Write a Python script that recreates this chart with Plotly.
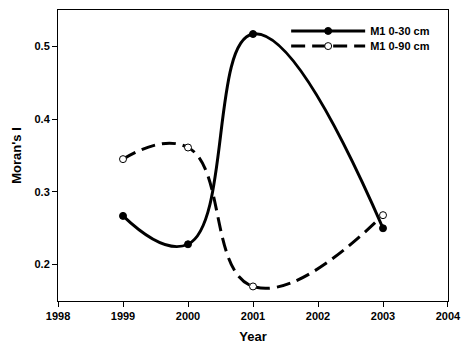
import plotly.graph_objects as go

years_a = [1999, 2000, 2001, 2003]
moran_0_30 = [0.267, 0.228, 0.517, 0.250]
years_b = [1999, 2000, 2001, 2003]
moran_0_90 = [0.345, 0.361, 0.170, 0.268]
x_ticks = [1998, 1999, 2000, 2001, 2002, 2003, 2004]
y_ticks = [0.2, 0.3, 0.4, 0.5]

FONT = "Liberation Sans, Arial, sans-serif"

fig = go.Figure()
fig.add_trace(go.Scatter(
    x=years_a, y=moran_0_30, name="M1 0-30 cm", mode="lines+markers",
    line=dict(color="black", width=3, shape="spline", smoothing=1.3),
    marker=dict(symbol="circle", size=7, color="black", line=dict(color="black", width=1)),
    legend="legend",
))
fig.add_trace(go.Scatter(
    x=years_b, y=moran_0_90, name="M1 0-90 cm", mode="lines+markers",
    line=dict(color="black", width=3, shape="spline", smoothing=1.3, dash="14px,7px"),
    marker=dict(symbol="circle", size=7, color="white", line=dict(color="black", width=1)),
    legend="legend2",
))

leg_common = dict(
    xanchor="left", yanchor="middle", bgcolor="rgba(0,0,0,0)", itemwidth=74,
    font=dict(family=FONT, size=11, color="black", weight="bold"),
)
fig.update_layout(
    width=461, height=352,
    margin=dict(l=58, r=13, t=10, b=51, autoexpand=False),
    paper_bgcolor="white", plot_bgcolor="white",
    font=dict(family=FONT, color="black", size=11),
    showlegend=True,
    legend=dict(x=0.585, y=0.928, **leg_common),
    legend2=dict(x=0.585, y=0.876, **leg_common),
)
fig.update_xaxes(
    range=[1997.9999, 2004.0001], tickvals=x_ticks, ticktext=[str(v) for v in x_ticks],
    ticklabeloverflow="allow",
    showgrid=False, zeroline=False, showline=True, linecolor="black", linewidth=1,
    mirror=True, ticks="outside", ticklen=5, tickcolor="black", tickwidth=1,
    tickfont=dict(family=FONT, size=11, color="black", weight="bold"),
    title=dict(text="Year", font=dict(family=FONT, size=13, color="black", weight="bold"), standoff=10),
)
fig.update_yaxes(
    range=[0.15, 0.55], tickvals=y_ticks, ticktext=[str(v) for v in y_ticks],
    showgrid=False, zeroline=False, showline=True, linecolor="black", linewidth=1,
    mirror=True, ticks="outside", ticklen=5, tickcolor="black", tickwidth=1,
    tickfont=dict(family=FONT, size=11, color="black", weight="bold"),
    title=dict(text="Moran's I", font=dict(family=FONT, size=13, color="black", weight="bold"), standoff=9),
)

fig.write_html("out.html")
